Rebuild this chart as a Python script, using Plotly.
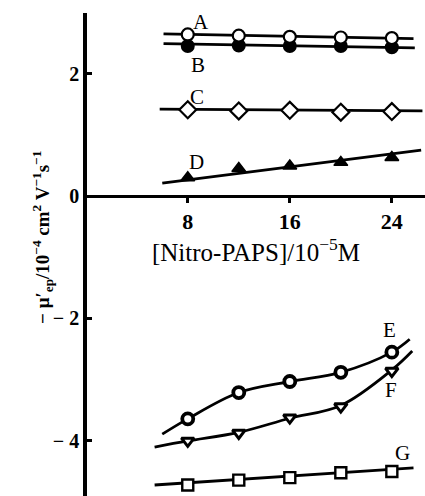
import plotly.graph_objects as go

# ---- data ----
conc = [8, 12, 16, 20, 24]
A_y = [2.64, 2.62, 2.60, 2.59, 2.58]
B_y = [2.45, 2.46, 2.45, 2.45, 2.43]
C_y = [1.41, 1.39, 1.40, 1.37, 1.38]
D_y = [0.30, 0.45, 0.49, 0.55, 0.63]
E_y = [-3.64, -3.21, -3.03, -2.88, -2.55]
F_y = [-4.00, -3.87, -3.62, -3.44, -2.86]
G_y = [-4.72, -4.64, -4.60, -4.52, -4.50]

# fitted lines (end points) and curves
A_fit_x = [6.1, 25.7]; A_fit_y = [2.65, 2.57]
B_fit_x = [6.1, 25.8]; B_fit_y = [2.49, 2.42]
C_fit_x = [5.8, 26.4]; C_fit_y = [1.42, 1.39]
D_fit_x = [6.0, 26.3]; D_fit_y = [0.21, 0.75]
G_fit_x = [5.4, 25.7]; G_fit_y = [-4.72, -4.44]
E_fit_x = [6.0, 8, 12, 16, 20, 24, 25.4]
E_fit_y = [-3.89, -3.64, -3.21, -3.03, -2.88, -2.55, -2.34]
F_fit_x = [5.4, 8, 12, 16, 20, 24, 25.6]
F_fit_y = [-4.10, -4.00, -3.86, -3.63, -3.42, -2.84, -2.53]

labels = ["A", "B", "C", "D", "E", "F", "G"]
label_x = [9.0, 8.8, 8.7, 8.7, 23.8, 23.9, 24.8]
label_y = [2.84, 2.14, 1.62, 0.56, -2.19, -3.17, -4.20]

x_ticks = [8, 16, 24]
y_ticks = [2, 0, -2, -4]
y_ticktext = ["2", "0", "\u2212 2", "\u2212 4"]

x_range = [0.1, 26.6]
y_range = [-4.90, 2.99]

FONT = "Liberation Serif"
BLK = "black"

fig = go.Figure()

def fit(x, y, shape="linear"):
    fig.add_trace(go.Scatter(x=x, y=y, mode="lines",
                             line=dict(color=BLK, width=2.8, shape=shape, smoothing=1.0),
                             hoverinfo="skip"))

def pts(y, symbol, fill, size, lw):
    fig.add_trace(go.Scatter(x=conc, y=y, mode="markers",
                             marker=dict(symbol=symbol, size=size, color=fill,
                                         line=dict(color=BLK, width=lw))))

fit(A_fit_x, A_fit_y)
fit(B_fit_x, B_fit_y)
fit(C_fit_x, C_fit_y)
fit(D_fit_x, D_fit_y)
fit(G_fit_x, G_fit_y)
fit(E_fit_x, E_fit_y, "spline")
fit(F_fit_x, F_fit_y, "spline")

pts(B_y, "circle", BLK, 12, 2)
pts(A_y, "circle", "white", 12, 2.2)
pts(C_y, "diamond", "white", 13, 2.2)
pts(D_y, "triangle-up", BLK, 12, 1.5)
pts(E_y, "circle", "white", 11, 3.8)
pts(F_y, "triangle-down", "white", 11, 3)
pts(G_y, "square", "white", 11, 2.4)

for t, lx, ly in zip(labels, label_x, label_y):
    fig.add_annotation(x=lx, y=ly, text=t, showarrow=False,
                       font=dict(family=FONT, size=21, color=BLK))

# y-axis title as annotation
fig.add_annotation(xref="paper", yref="paper", x=-0.178, y=0.535,
                   text="<b>\u2212 \u03bc\u2032<sub>ep</sub>/10<sup>\u22124</sup> cm<sup>2</sup> V<sup>\u22121</sup>s<sup>\u22121</sup></b>",
                   textangle=-90, showarrow=False,
                   font=dict(family=FONT, size=19, color=BLK))

x_pos = (0 - y_range[0]) / (y_range[1] - y_range[0])

fig.update_layout(
    width=425, height=496,
    margin=dict(l=87, r=0, t=13, b=0, autoexpand=False),
    plot_bgcolor="white", paper_bgcolor="white",
    showlegend=False,
    xaxis=dict(range=x_range, anchor="free", position=x_pos, automargin=False,
               showgrid=False, zeroline=False,
               showline=True, linecolor=BLK, linewidth=3,
               ticks="outside", ticklen=5, tickwidth=2.5, tickcolor=BLK,
               tickvals=x_ticks, ticktext=["<b>%d</b>" % v for v in x_ticks],
               tickfont=dict(family=FONT, size=22, color=BLK),
               title=dict(text="[Nitro-PAPS]/10<sup>\u22125</sup>M",
                          font=dict(family=FONT, size=25, color=BLK), standoff=4)),
    yaxis=dict(range=y_range, showgrid=False, zeroline=False, automargin=False,
               showline=True, linecolor=BLK, linewidth=3.5,
               ticks="inside", ticklen=5, tickwidth=2.5, tickcolor=BLK,
               tickvals=y_ticks, ticktext=["<b>%s</b>" % t for t in y_ticktext],
               tickfont=dict(family=FONT, size=20, color=BLK)),
)

fig.write_html("out.html", config={"displayModeBar": False},
               post_script="document.body.style.margin='0';")
